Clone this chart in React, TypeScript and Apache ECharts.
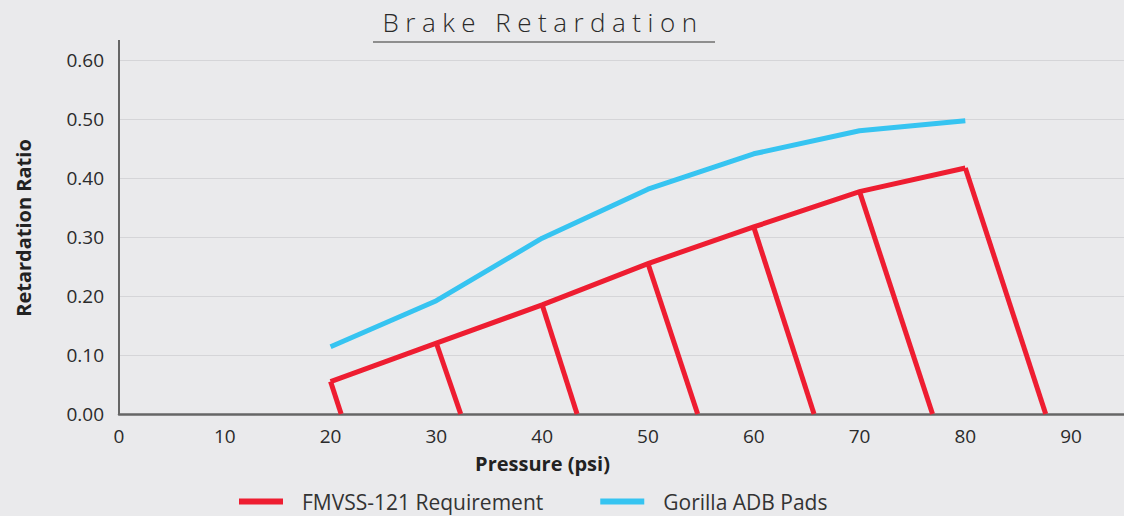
import React, { useEffect, useRef } from "react";
import * as echarts from "echarts";

const pressures = [20, 30, 40, 50, 60, 70, 80];
const fmvssRequirement = [0.055, 0.12, 0.185, 0.255, 0.317, 0.377, 0.417];
const fmvssDropEnds = [21, 32.3, 43.3, 54.7, 65.7, 76.9, 87.6];
const gorillaPads = [0.114, 0.192, 0.298, 0.381, 0.441, 0.48, 0.497];

const titleText = "Brake Retardation";
const seriesNames = ["FMVSS-121 Requirement", "Gorilla ADB Pads"];
const xAxisName = "Pressure (psi)";
const yAxisName = "Retardation Ratio";

const RED = "#EE1D31";
const BLUE = "#36C4F1";
const FONT = "'Open Sans', 'Noto Sans', sans-serif";

export default function App() {
  const ref = useRef<HTMLDivElement>(null);

  useEffect(() => {
    if (!ref.current) return;
    const chart = echarts.init(ref.current, null, { renderer: "svg" });

    const topLine = pressures.map((p, i) => [p, fmvssRequirement[i]]);
    const drops = pressures.map((p, i) => ({
      name: seriesNames[0],
      type: "line",
      data: [
        [p, fmvssRequirement[i]],
        [fmvssDropEnds[i], 0],
      ],
      showSymbol: false,
      symbol: "none",
      lineStyle: { color: RED, width: 5 },
      itemStyle: { color: RED },
      z: 3,
    }));

    chart.setOption({
      animation: false,
      backgroundColor: "#EAEAEC",
      grid: { left: 119, right: 0, top: 60, bottom: 102, outerBoundsMode: "none" },
      graphic: [
        {
          type: "text",
          x: 543,
          y: 22,
          style: {
            text: titleText,
            fill: "#2a2a2a",
            font: `300 26px ${FONT}`,
            textAlign: "center",
            textVerticalAlign: "middle",
          },
        },
        {
          type: "line",
          shape: { x1: 373, y1: 42, x2: 715, y2: 42 },
          style: { stroke: "#6f6f6f", lineWidth: 1.5 },
        },
        {
          type: "line",
          shape: { x1: 119, y1: 40, x2: 119, y2: 61 },
          style: { stroke: "#666666", lineWidth: 2 },
        },
      ],
      legend: {
        left: 234,
        top: 486,
        icon: "rect",
        itemWidth: 44,
        itemHeight: 6,
        itemGap: 57,
        data: [
          { name: seriesNames[0], itemStyle: { color: RED } },
          { name: seriesNames[1], itemStyle: { color: BLUE } },
        ],
        textStyle: {
          color: "#333333",
          fontFamily: FONT,
          fontSize: 21,
          lineHeight: 20,
          padding: [0, 0, 0, 14],
        },
      },
      xAxis: {
        type: "value",
        min: 0,
        max: 95,
        interval: 10,
        name: xAxisName,
        nameLocation: "middle",
        nameGap: 39,
        nameTextStyle: {
          color: "#222222",
          fontFamily: FONT,
          fontWeight: "bold",
          fontSize: 20,
          padding: [0, 158, 0, 0],
        },
        axisLine: { show: true, lineStyle: { color: "#666666", width: 2.5 } },
        axisTick: { show: false },
        splitLine: { show: false },
        axisLabel: {
          showMaxLabel: false,
          margin: 12,
          color: "#2b2b2b",
          fontFamily: FONT,
          fontSize: 19,
          formatter: (v: number) => String(Math.round(v)),
        },
      },
      yAxis: {
        type: "value",
        min: 0,
        max: 0.6,
        interval: 0.1,
        name: yAxisName,
        nameLocation: "middle",
        nameGap: 86,
        nameTextStyle: {
          color: "#222222",
          fontFamily: FONT,
          fontWeight: "bold",
          fontSize: 20,
          padding: [0, 0, 0, 18],
        },
        axisLine: { show: true, lineStyle: { color: "#666666", width: 2 } },
        axisTick: { show: false },
        splitLine: { show: true, lineStyle: { color: "#D5D5D8", width: 1 } },
        axisLabel: {
          margin: 15,
          color: "#2b2b2b",
          fontFamily: FONT,
          fontSize: 19,
          padding: [0, 0, 10, 0],
          formatter: (v: number) => v.toFixed(2),
        },
      },
      series: [
        {
          name: seriesNames[0],
          type: "line",
          data: topLine,
          showSymbol: false,
          symbol: "none",
          lineStyle: { color: RED, width: 5, join: "miter" },
          itemStyle: { color: RED },
          z: 3,
        },
        ...drops,
        {
          name: seriesNames[1],
          type: "line",
          data: pressures.map((p, i) => [p, gorillaPads[i]]),
          showSymbol: false,
          symbol: "none",
          lineStyle: { color: BLUE, width: 5 },
          itemStyle: { color: BLUE },
          z: 2,
        },
      ],
    });

    const applySpacing = () => {
      if (!ref.current) return;
      ref.current.querySelectorAll("text").forEach((t) => {
        if (t.textContent === titleText) {
          t.setAttribute("letter-spacing", "6.5");
        }
      });
    };
    applySpacing();
    const raf = requestAnimationFrame(applySpacing);
    const to = setTimeout(applySpacing, 50);
    chart.on("finished", applySpacing);

    return () => {
      cancelAnimationFrame(raf);
      clearTimeout(to);
      chart.dispose();
    };
  }, []);

  return (
    <div
      ref={ref}
      style={{ position: "fixed", left: 0, top: 0, width: 1124, height: 516 }}
    />
  );
}
